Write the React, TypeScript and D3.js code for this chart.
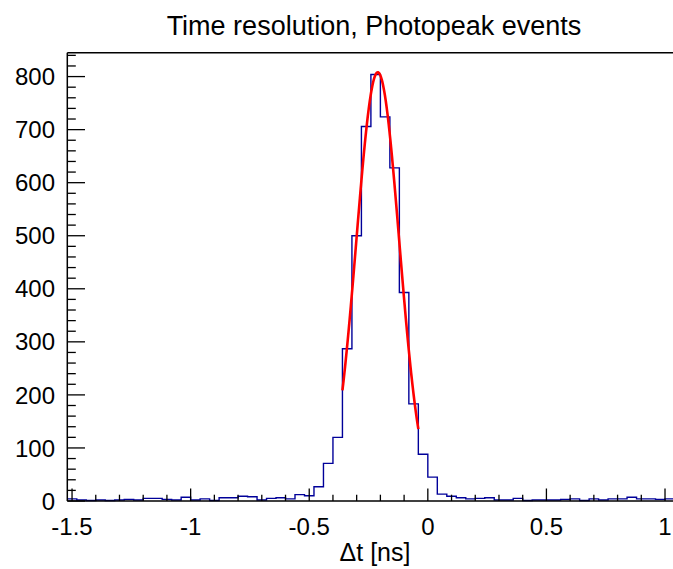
import React from "react";
import * as d3 from "d3";

const binLow = -1.52;
const binWidth = 0.04;
const counts = [
  4, 2, 1, 2, 1, 2, 3, 2, 5, 5, 3, 2, 7, 2, 4, 1, 6, 6, 9, 8, 2, 5, 6, 4,
  12, 10, 27, 71, 120, 287, 500, 706, 804, 724, 628, 393, 183, 88,
  45, 13, 9, 6, 4, 5, 6, 2, 2, 5, 1, 2, 2, 2, 3, 4, 1, 4, 2, 4, 4, 7, 4, 4, 3, 4,
];
const fitParams = { amp: 808, mean: -0.211, sigma: 0.0905, from: -0.36, to: -0.04 };
const xMajorTicks = [-1.5, -1, -0.5, 0, 0.5, 1];
const xTickLabels = ["-1.5", "-1", "-0.5", "0", "0.5", "1"];
const yMajorTicks = [0, 100, 200, 300, 400, 500, 600, 700, 800];
const titleText = "Time resolution, Photopeak events";
const xTitle = "\u0394t [ns]";

const W = 673;
const H = 569;
const L = 67.3, R = 674.5, T = 52.7, B = 501;
const FONT = "'Liberation Sans', Arial, Helvetica, sans-serif";

export default function App() {
  const x = d3.scaleLinear().domain([binLow, binLow + binWidth * counts.length]).range([L, R]);
  const y = d3.scaleLinear().domain([0, 845]).range([B, T]);

  const pts: [number, number][] = [];
  counts.forEach((c, i) => {
    const lo = binLow + i * binWidth;
    pts.push([lo, c]);
    pts.push([lo + binWidth, c]);
  });
  const histPath = d3.line<[number, number]>().x((d) => x(d[0])).y((d) => y(d[1]))(pts) || "";

  const fitPts: [number, number][] = [];
  const n = 200;
  for (let k = 0; k <= n; k++) {
    const xv = fitParams.from + ((fitParams.to - fitParams.from) * k) / n;
    const z = (xv - fitParams.mean) / fitParams.sigma;
    fitPts.push([xv, fitParams.amp * Math.exp(-0.5 * z * z)]);
  }
  const fitPath = d3.line<[number, number]>().x((d) => x(d[0])).y((d) => y(d[1]))(fitPts) || "";

  const xMinor = d3.range(-15, 11).map((v) => v / 10).filter((v) => !xMajorTicks.some((m) => Math.abs(m - v) < 1e-9));
  const yMinor = d3.range(0, 845, 20).filter((v) => v % 100 !== 0);

  return (
    <svg width={W} height={H} style={{ position: "absolute", left: 0, top: 0, background: "#fff" }} fontFamily={FONT}>
      <rect x={0} y={0} width={W} height={H} fill="#fff" />
      <path d={histPath} fill="none" stroke="#000099" strokeWidth={1.4} />
      <path d={fitPath} fill="none" stroke="#ff0000" strokeWidth={2.6} />
      <line x1={L} x2={R} y1={T} y2={T} stroke="#000" strokeWidth={1.5} />
      <line x1={L} x2={R} y1={B} y2={B} stroke="#000" strokeWidth={1.5} />
      <line x1={L} x2={L} y1={T} y2={B} stroke="#000" strokeWidth={1.5} />
      {xMajorTicks.map((v) => (
        <line key={"xM" + v} x1={x(v)} x2={x(v)} y1={B} y2={B - 12.5} stroke="#000" strokeWidth={1.3} />
      ))}
      {xMinor.map((v) => (
        <line key={"xm" + v} x1={x(v)} x2={x(v)} y1={B} y2={B - 6.3} stroke="#000" strokeWidth={1.3} />
      ))}
      {xMajorTicks.map((v, i) => (
        <text key={"xl" + v} x={x(v)} y={535} textAnchor="middle" fontSize={24} fill="#000">
          {xTickLabels[i]}
        </text>
      ))}
      {yMajorTicks.map((v) => (
        <line key={"yM" + v} x1={L} x2={L + 17.7} y1={y(v)} y2={y(v)} stroke="#000" strokeWidth={1.3} />
      ))}
      {yMinor.map((v) => (
        <line key={"ym" + v} x1={L} x2={L + 8.5} y1={y(v)} y2={y(v)} stroke="#000" strokeWidth={1.3} />
      ))}
      {yMajorTicks.map((v) => (
        <text key={"yl" + v} x={55} y={y(v)} dy="0.36em" textAnchor="end" fontSize={24} fill="#000">
          {String(v)}
        </text>
      ))}
      <text x={374} y={35} textAnchor="middle" fontSize={27} fill="#000">
        {titleText}
      </text>
      <text x={375} y={561} textAnchor="middle" fontSize={25} fill="#000">
        {xTitle}
      </text>
    </svg>
  );
}
